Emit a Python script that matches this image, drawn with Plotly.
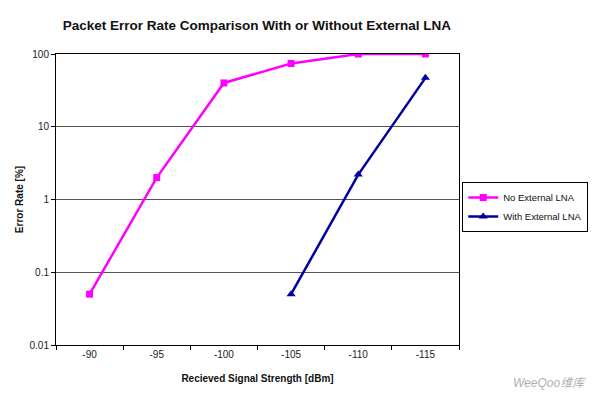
import plotly.graph_objects as go

categories = ["-90", "-95", "-100", "-105", "-110", "-115"]
no_lna = [0.05, 2, 40, 74, 100, 100]
with_lna_cats = ["-105", "-110", "-115"]
with_lna = [0.05, 2.2, 47]
y_ticks = [0.01, 0.1, 1, 10, 100]
y_tick_text = ["0.01", "0.1", "1", "10", "100"]

fig = go.Figure()
fig.add_trace(go.Scatter(
    x=categories, y=no_lna, mode="lines+markers", name="No External LNA",
    line=dict(color="#FF00FF", width=2.5),
    marker=dict(symbol="square", size=7, color="#FF00FF"),
))
fig.add_trace(go.Scatter(
    x=with_lna_cats, y=with_lna, mode="lines+markers", name="With External LNA",
    line=dict(color="#0000A0", width=2.5),
    marker=dict(symbol="triangle-up", size=8, color="#0000A0"),
))

font_family = "Liberation Sans, Arial, sans-serif"
fig.update_layout(
    width=600, height=394,
    margin=dict(l=56, r=138, t=54, b=46),
    paper_bgcolor="white", plot_bgcolor="white",
    font=dict(family=font_family, size=10, color="#222"),
    title=dict(text="<b>Packet Error Rate Comparison With or Without External LNA</b>",
               x=0.428, xanchor="center", y=0.935, yanchor="middle",
               font=dict(size=13.5, color="#111")),
    showlegend=True,
    legend=dict(x=1.008, y=0.56, xanchor="left", yanchor="top",
                bordercolor="#000", borderwidth=1, bgcolor="white",
                font=dict(size=9.5, color="#111"), tracegroupgap=0,
                itemwidth=30),
)
fig.update_xaxes(
    type="category", categoryorder="array", categoryarray=categories,
    range=[-0.5, 5.5],
    showline=True, linecolor="#000", linewidth=1, mirror=True,
    ticks="outside", tickson="boundaries", ticklen=4, tickcolor="#000",
    showgrid=False, zeroline=False,
    title=dict(text="<b>Recieved Signal Strength [dBm]</b>", standoff=15,
               font=dict(size=10, color="#111")),
    tickfont=dict(size=10, color="#222"),
)
fig.update_yaxes(
    type="log", range=[-2, 2],
    tickvals=y_ticks, ticktext=y_tick_text,
    showline=True, linecolor="#000", linewidth=1, mirror=True,
    ticks="outside", ticklen=4, tickcolor="#000",
    showgrid=True, gridcolor="#555", gridwidth=1, zeroline=False,
    title=dict(text="<b>Error Rate [%]</b>", standoff=4,
               font=dict(size=10, color="#111")),
    tickfont=dict(size=10, color="#222"),
)
fig.add_annotation(
    text="<i>WeeQoo维库</i>", xref="paper", yref="paper",
    x=1.32, y=-0.1, xanchor="right", yanchor="top", showarrow=False,
    font=dict(size=12, color="#b0b0b0", family="Liberation Sans, Noto Sans CJK SC"),
)
fig.write_html("out.html", config={"displayModeBar": False},
               post_script="document.body.style.margin='0';document.body.style.overflow='hidden';")
